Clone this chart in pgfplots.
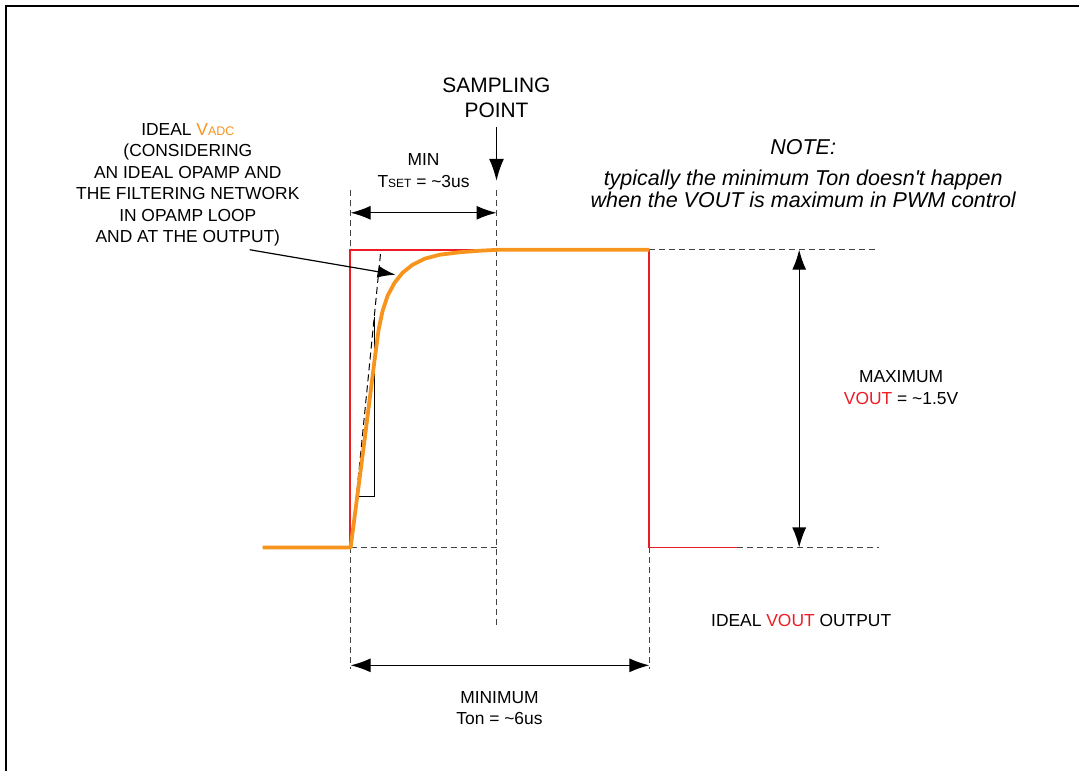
\documentclass[border=0pt]{standalone}
\usepackage{pgfplots}
\pgfplotsset{compat=1.18}
\usepackage{fontspec}
\setmainfont{Liberation Sans}
\newfontfamily\notefont{Liberation Sans}
\usetikzlibrary{arrows.meta}
\definecolor{vorange}{HTML}{F7941D}
\definecolor{vred}{RGB}{237,28,36}
\definecolor{dgray}{HTML}{444444}
\newcommand{\fs}[2]{\fontsize{#1}{#2}\selectfont}
\tikzset{lbl/.style={font=\fs{17.5}{21.6}, align=center, inner sep=0pt}}
\begin{document}
\begin{tikzpicture}
\begin{axis}[
  x=1bp, y=1bp, xmin=0, xmax=1080, ymin=0, ymax=772,
  y dir=reverse, hide axis, clip=false,
]
\addplot[draw=none, forget plot] coordinates {(0,0) (1080,772)};
% frame
\addplot[draw=black, line width=2.2bp] coordinates {(6,772) (6,6) (1080,6)};
% dashed guides
\addplot[draw=dgray, line width=1bp, dash pattern=on 6bp off 4bp] coordinates {(351,190) (351,250)};
\addplot[draw=dgray, line width=1bp, dash pattern=on 6bp off 4bp] coordinates {(351,548) (351,670)};
\addplot[draw=dgray, line width=1bp, dash pattern=on 6bp off 4bp] coordinates {(497,190) (497,630)};
\addplot[draw=dgray, line width=1bp, dash pattern=on 6bp off 4bp] coordinates {(650,548) (650,670)};
\addplot[draw=dgray, line width=1bp, dash pattern=on 6bp off 4bp] coordinates {(351,548) (497,548)};
\addplot[draw=dgray, line width=1bp, dash pattern=on 6bp off 4bp] coordinates {(738,548) (880,548)};
\addplot[draw=dgray, line width=1bp, dash pattern=on 6bp off 4bp] coordinates {(650,250) (880,250)};
% tangent dashed
\addplot[draw=black, line width=1bp, dash pattern=on 7bp off 4bp] coordinates {(353,535) (381,253)};
% bracket
\addplot[draw=black, line width=1.2bp] coordinates {(375,317) (375,497) (357,497)};
% red ideal VOUT
\addplot[vred, line width=1.8bp] coordinates {(350,548) (350,250) (650,250) (650,548) (738,548)};
% orange VADC
\addplot[draw=vorange, line width=3.8bp, line join=round] coordinates {
(263,548) (351,548) (365,440) (375,360) (379,330) (383,311) (388,296) (395,283)
(403,273) (413,265) (425,259) (440,255) (460,252.5) (480,251) (500,250) (650,250)};
% arrows
\addplot[draw=black, line width=1.2bp, {Latex[length=20bp,width=14bp]}-{Latex[length=20bp,width=14bp]}] coordinates {(351,213) (497,213)};
\addplot[draw=black, line width=1.2bp, {Latex[length=20bp,width=14bp]}-{Latex[length=20bp,width=14bp]}] coordinates {(351,666) (650,666)};
\addplot[draw=black, line width=1.2bp, {Latex[length=20bp,width=14bp]}-{Latex[length=20bp,width=14bp]}] coordinates {(800,250) (800,548)};
\addplot[draw=black, line width=1.5bp, -{Latex[length=22bp,width=15bp]}] coordinates {(497,127) (497,181)};
\addplot[draw=black, line width=1.2bp, -{Latex[length=18bp,width=12bp]}] coordinates {(250,250) (396,275)};
% texts
\node[lbl, font=\fs{21}{25}] at (axis cs:497,98) {SAMPLING\\POINT};
\node[lbl] at (axis cs:424,171) {MIN\\T{\fs{12}{14}SET} = \textasciitilde3us};
\node[lbl] at (axis cs:188,185) {IDEAL \textcolor{vorange}{V{\fs{12.5}{14}ADC}}\\(CONSIDERING\\AN IDEAL OPAMP AND\\THE FILTERING NETWORK\\IN OPAMP LOOP\\AND AT THE OUTPUT)};
\node[lbl, font=\notefont\itshape\fs{21.6}{22.5}] at (axis cs:804,174) {NOTE:\\[8bp]typically the minimum Ton doesn't happen\\when the VOUT is maximum in PWM control};
\node[lbl] at (axis cs:902,388) {MAXIMUM\\\textcolor{vred}{VOUT} = \textasciitilde1.5V};
\node[lbl] at (axis cs:802,621) {IDEAL \textcolor{vred}{VOUT} OUTPUT};
\node[lbl] at (axis cs:500,709) {MINIMUM\\Ton = \textasciitilde6us};
\end{axis}
\end{tikzpicture}
\end{document}
